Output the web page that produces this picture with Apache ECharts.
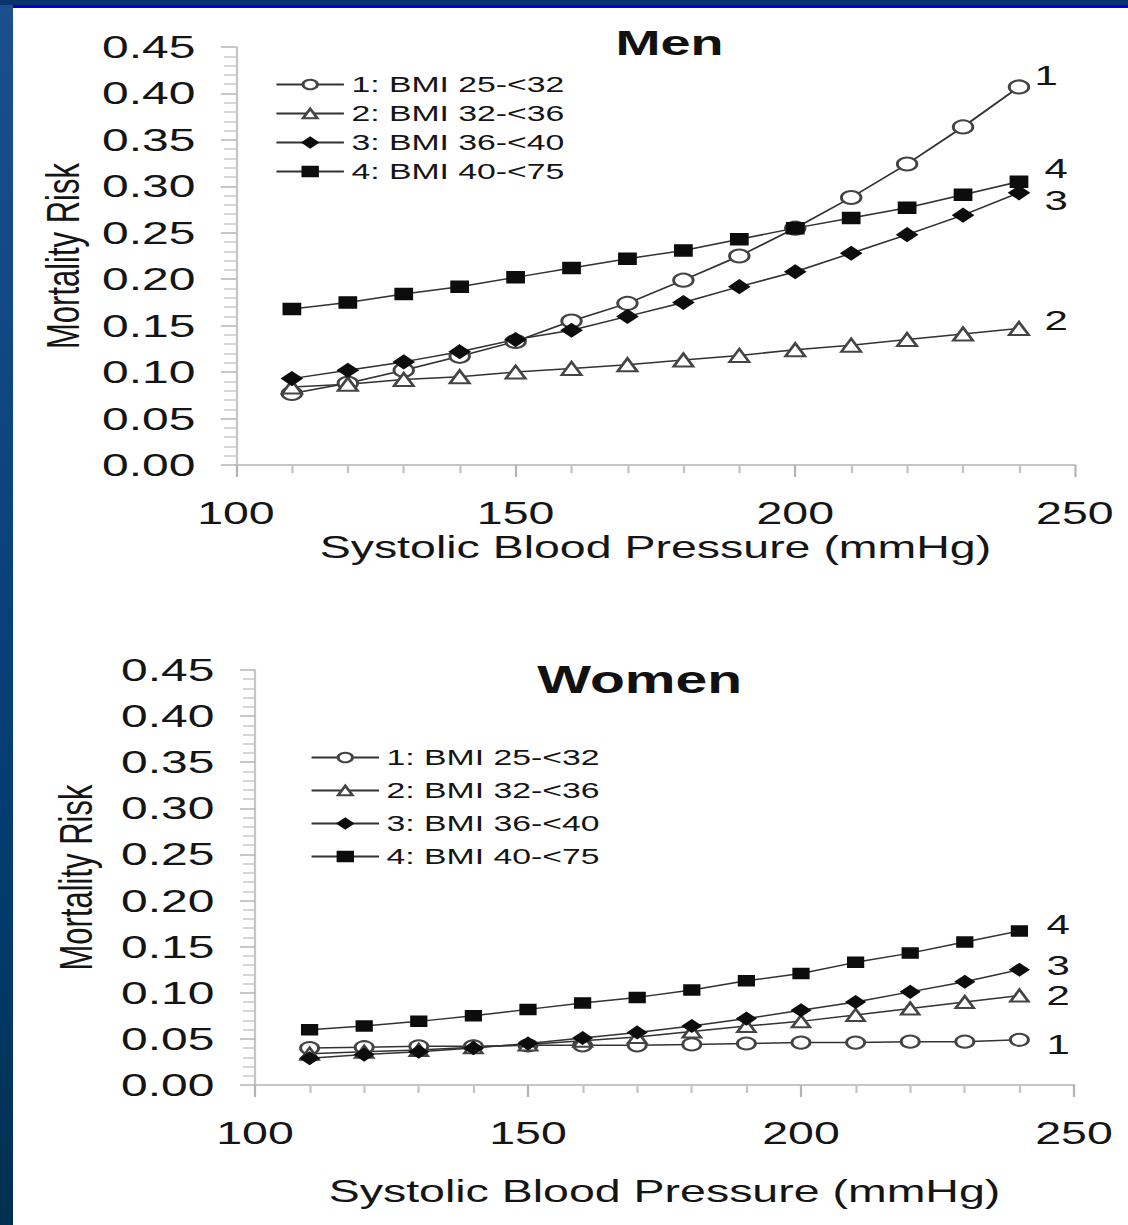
<!DOCTYPE html>
<html>
<head>
<meta charset="utf-8">
<script src="https://cdn.jsdelivr.net/npm/echarts@6/dist/echarts.min.js"></script>
<style>
  html, body { margin: 0; padding: 0; }
  body {
    width: 1128px; height: 1225px; position: relative; overflow: hidden;
    background: linear-gradient(to bottom, #1b4f8f 0%, #0b447f 40%, #013a6c 75%, #00304f 100%);
  }
  #topband { position: absolute; left: 0; top: 0; width: 1128px; height: 5px; background: #08346a; }
  #topline { position: absolute; left: 13px; top: 5px; width: 1115px; height: 3px; background: #0000e0; }
  #paper { position: absolute; left: 13px; top: 8px; width: 1115px; height: 1217px; background: #fff; }
  /* the source picture is stretched sideways by about 1.5 */
  #chart { position: absolute; left: 0; top: 0; width: 752px; height: 1225px;
           transform: scaleX(1.5); transform-origin: 0 0; }
</style>
</head>
<body>
<div id="topband"></div>
<div id="topline"></div>
<div id="paper"></div>
<div id="chart"></div>
<script>
// systolic blood pressure (mmHg)
var sbp = [110, 120, 130, 140, 150, 160, 170, 180, 190, 200, 210, 220, 230, 240];
var groups = ['1: BMI 25-<32', '2: BMI 32-<36', '3: BMI 36-<40', '4: BMI 40-<75'];
var endTags = ['1', '2', '3', '4'];

// mortality risk, men
var men1 = [0.077, 0.088, 0.102, 0.117, 0.133, 0.155, 0.174, 0.199, 0.225, 0.255, 0.288, 0.324, 0.364, 0.407];
var men2 = [0.084, 0.087, 0.092, 0.095, 0.100, 0.104, 0.108, 0.113, 0.118, 0.124, 0.129, 0.135, 0.141, 0.147];
var men3 = [0.093, 0.102, 0.111, 0.122, 0.135, 0.145, 0.160, 0.175, 0.192, 0.208, 0.228, 0.248, 0.269, 0.293];
var men4 = [0.168, 0.175, 0.184, 0.192, 0.202, 0.212, 0.222, 0.231, 0.243, 0.255, 0.266, 0.277, 0.291, 0.305];

// mortality risk, women
var women1 = [0.040, 0.041, 0.042, 0.042, 0.043, 0.043, 0.043, 0.044, 0.045, 0.046, 0.046, 0.047, 0.047, 0.049];
var women2 = [0.034, 0.036, 0.038, 0.041, 0.044, 0.048, 0.052, 0.058, 0.064, 0.069, 0.076, 0.083, 0.090, 0.097];
var women3 = [0.029, 0.033, 0.036, 0.040, 0.045, 0.051, 0.057, 0.064, 0.072, 0.081, 0.090, 0.101, 0.112, 0.125];
var women4 = [0.060, 0.064, 0.069, 0.075, 0.082, 0.089, 0.095, 0.103, 0.113, 0.121, 0.133, 0.143, 0.155, 0.167];

var font = 'Liberation Sans, Arial, sans-serif';
var ink = '#151515';
var symbols = ['emptyCircle', 'emptyTriangle', 'diamond', 'rect'];
var symbolSizes = [13, 13, 13, 11];

function pairs(vals) {
  return sbp.map(function (x, i) { return [x, vals[i]]; });
}

function xAxisFor(idx, gap) {
  return {
    gridIndex: idx, type: 'value', min: 100, max: 250, interval: 50,
    name: 'Systolic Blood Pressure (mmHg)', nameLocation: 'middle', nameGap: gap,
    nameTextStyle: { fontFamily: font, fontSize: 31, color: ink },
    axisLine: { lineStyle: { color: '#c6c6c6', width: 2 } },
    axisTick: { length: 12, lineStyle: { color: '#b4b4b4', width: 1.5 } },
    minorTick: { show: true, splitNumber: 5, length: 8, lineStyle: { color: '#c4c4c4', width: 1.5 } },
    splitLine: { show: false },
    axisLabel: { fontFamily: font, fontSize: 31, color: ink, margin: 33 }
  };
}

function yAxisFor(idx, gap, margin) {
  return {
    gridIndex: idx, type: 'value', min: 0, max: 0.45, interval: 0.05,
    name: 'Mortality Risk', nameLocation: 'middle', nameGap: gap,
    nameTextStyle: { fontFamily: font, fontSize: 31, color: ink },
    axisLine: { show: true, lineStyle: { color: '#c6c6c6', width: 1.5 } },
    axisTick: { show: true, length: 10, lineStyle: { color: '#b4b4b4', width: 1.5 } },
    minorTick: { show: true, splitNumber: 5, length: 8, lineStyle: { color: '#c8c8c8', width: 1.5 } },
    splitLine: { show: false },
    axisLabel: { fontFamily: font, fontSize: 32, color: ink, margin: margin,
                 formatter: function (v) { return v.toFixed(2); } }
  };
}

function seriesFor(idx, sets, offsets, sizeAdj) {
  return sets.map(function (vals, k) {
    return {
      name: groups[k], type: 'line', xAxisIndex: idx, yAxisIndex: idx,
      data: pairs(vals),
      symbol: symbols[k], symbolSize: symbolSizes[k] + sizeAdj, showAllSymbol: true,
      lineStyle: { color: '#333', width: 1.5 },
      itemStyle: { color: k < 2 ? '#444' : '#0d0d0d', borderColor: k < 2 ? '#444' : '#0d0d0d', borderWidth: 1.5 },
      endLabel: {
        show: true, formatter: endTags[k], distance: 0, align: 'left', verticalAlign: 'middle',
        offset: offsets[k], fontFamily: font, fontSize: 28, lineHeight: 22, color: ink
      },
      emphasis: { disabled: true }
    };
  });
}

function legendFor(left, top, gap) {
  return {
    orient: 'vertical', left: left, top: top, itemGap: gap, padding: 0,
    itemWidth: 45, itemHeight: 12, data: groups,
    textStyle: { fontFamily: font, fontSize: 22.5, color: ink, lineHeight: 22 },
    selectedMode: false
  };
}

var option = {
  animation: false,
  backgroundColor: 'transparent',
  title: [
    { text: 'Men', left: 441.4, top: 19, textAlign: 'center',
      textStyle: { fontFamily: font, fontSize: 36, fontWeight: 'bold', color: '#111' } },
    { text: 'Women', left: 421.4, top: 656, textAlign: 'center',
      textStyle: { fontFamily: font, fontSize: 38, fontWeight: 'bold', color: '#111' } }
  ],
  legend: [legendFor(183.3, 73, 6), legendFor(206.7, 746, 10)],
  grid: [
    { left: 157.3, top: 47, width: 559.3, height: 418 },
    { left: 170, top: 670, width: 546, height: 415 }
  ],
  xAxis: [xAxisFor(0, 67), xAxisFor(1, 91)],
  yAxis: [yAxisFor(0, 96, 27), yAxisFor(1, 104, 27)],
  series: seriesFor(0, [men1, men2, men3, men4], [[10.4, -11], [17, -8], [17, 8], [17, -13]], 0)
    .concat(seriesFor(1, [women1, women2, women3, women4], [[18, 5], [18, 0], [18, -4], [18, -6]], -1))
};

var chart = echarts.init(document.getElementById('chart'), null, { renderer: 'svg' });
chart.setOption(option);
</script>
</body>
</html>
